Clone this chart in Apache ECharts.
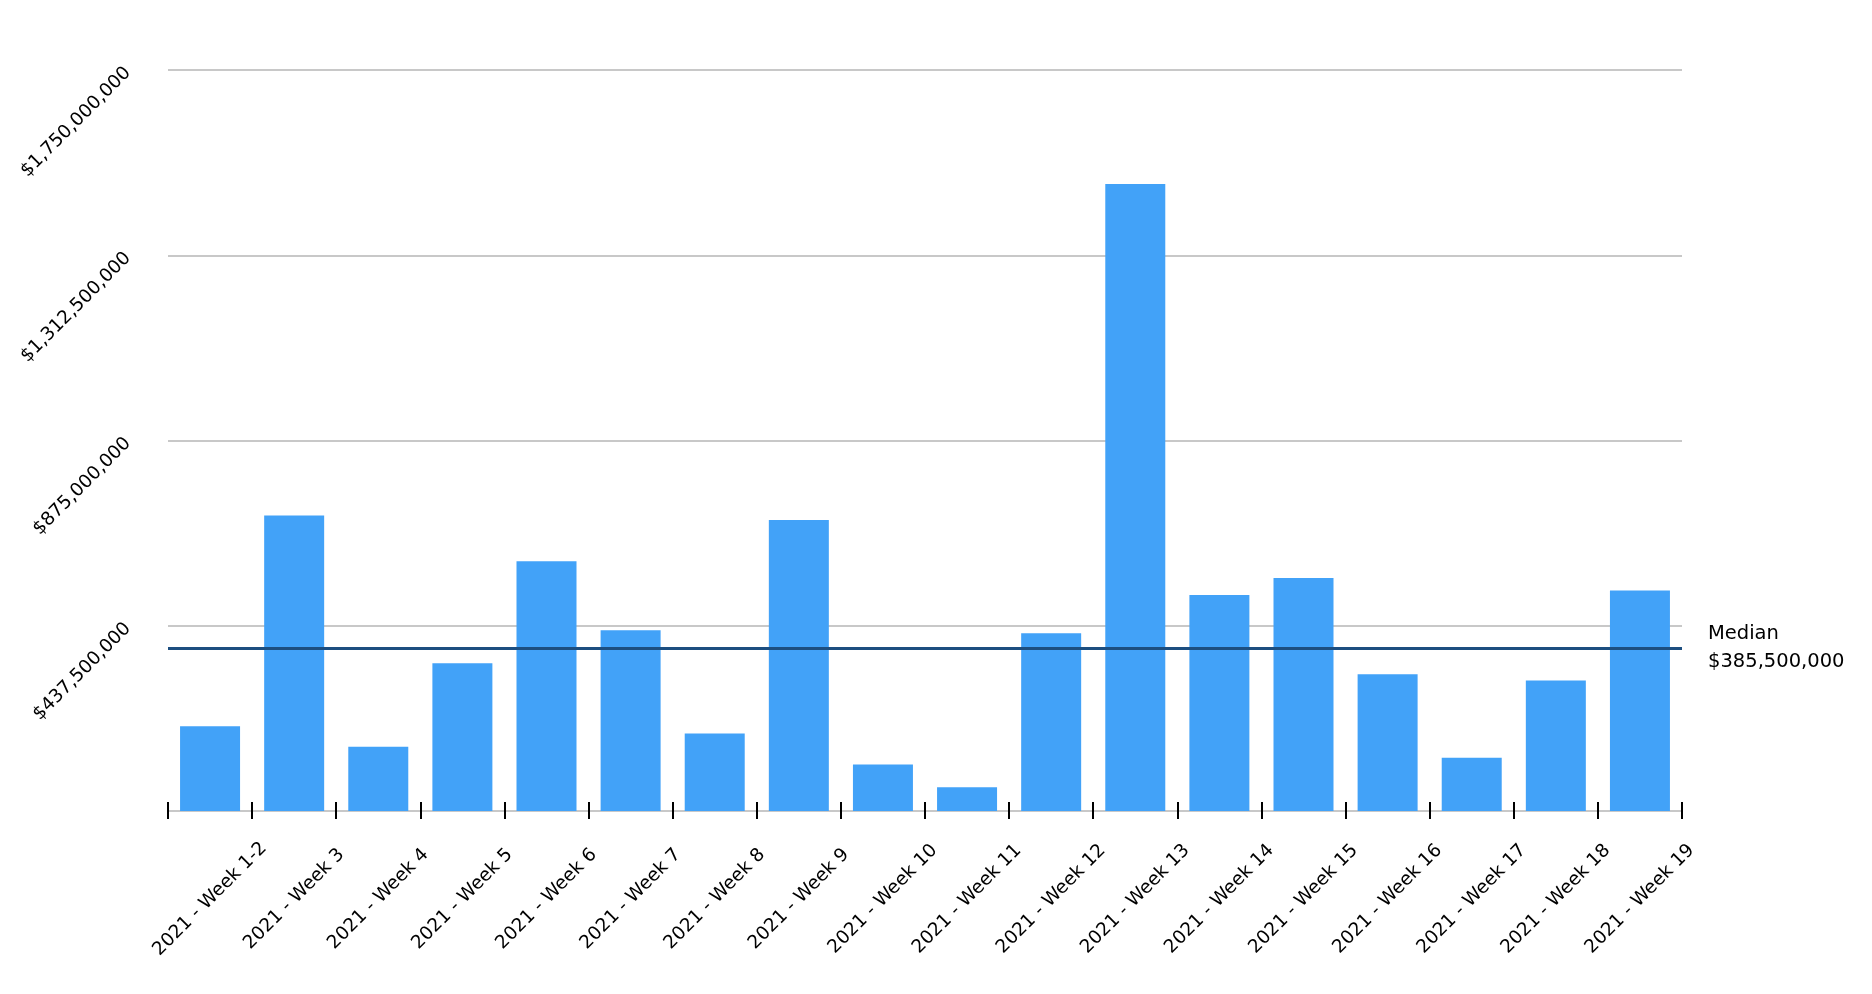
<!DOCTYPE html>
<html>
<head>
<meta charset="utf-8">
<script src="https://cdn.jsdelivr.net/npm/echarts@6/dist/echarts.min.js"></script>
<style>
html,body{margin:0;padding:0;background:#fff;}
#chart{width:1872px;height:994px;}
</style>
</head>
<body>
<div id="chart"></div>
<script>
const categories = ['2021 - Week 1-2','2021 - Week 3','2021 - Week 4','2021 - Week 5','2021 - Week 6','2021 - Week 7','2021 - Week 8','2021 - Week 9','2021 - Week 10','2021 - Week 11','2021 - Week 12','2021 - Week 13','2021 - Week 14','2021 - Week 15','2021 - Week 16','2021 - Week 17','2021 - Week 18','2021 - Week 19'];
const values = [200000000, 698000000, 152000000, 349000000, 590000000, 427000000, 183000000, 687000000, 110000000, 56000000, 420000000, 1481000000, 510000000, 550000000, 323000000, 126000000, 308000000, 521000000];
const medianValue = 385500000;
const medianLabel = 'Median';
const yMax = 1750000000;
const yInterval = 437500000;

const FONT = 'DejaVu Sans';
const fmt = v => '$' + Number(v).toLocaleString('en-US');

const chart = echarts.init(document.getElementById('chart'), null, {renderer: 'canvas'});
chart.setOption({
  animation: false,
  backgroundColor: '#ffffff',
  grid: {left: 168, right: 190, top: 70, bottom: 183, containLabel: false},
  xAxis: [{
    type: 'category',
    data: categories,
    position: 'bottom',
    axisLine: {show: true, lineStyle: {color: '#c8c8c8', width: 2}},
    axisTick: {show: true, interval: 0, inside: false, length: 8, lineStyle: {color: '#000', width: 2}},
    axisLabel: {
      rotate: 45, align: 'center', verticalAlign: 'middle', margin: 88,
      fontFamily: FONT, fontSize: 18.5, color: '#000', interval: 0
    },
    splitLine: {show: false}
  }, {
    type: 'category',
    data: categories,
    position: 'bottom',
    axisLine: {show: false},
    axisTick: {show: true, interval: 0, inside: true, length: 9, lineStyle: {color: '#000', width: 2}},
    axisLabel: {show: false, interval: 0},
    splitLine: {show: false}
  }],
  yAxis: {
    type: 'value',
    min: 0, max: yMax, interval: yInterval,
    axisLine: {show: false},
    axisTick: {show: false},
    splitLine: {show: true, lineStyle: {color: '#c8c8c8', width: 2}},
    axisLabel: {
      rotate: 45, margin: 40, showMinLabel: false,
      fontFamily: FONT, fontSize: 18.5, color: '#000',
      formatter: v => v === 0 ? '' : fmt(v)
    }
  },
  series: [{
    type: 'bar',
    data: values,
    barWidth: 60,
    itemStyle: {color: '#42a2f8'},
    markLine: {
      silent: true,
      symbol: 'none',
      data: [{yAxis: medianValue}],
      lineStyle: {color: '#1c4e80', width: 3, type: 'solid'},
      label: {
        show: true, position: 'end', distance: 26,
        formatter: medianLabel + '\n' + fmt(medianValue),
        fontFamily: FONT, fontSize: 19.5, lineHeight: 28, color: '#000', align: 'left'
      }
    }
  }]
});
</script>
</body>
</html>
